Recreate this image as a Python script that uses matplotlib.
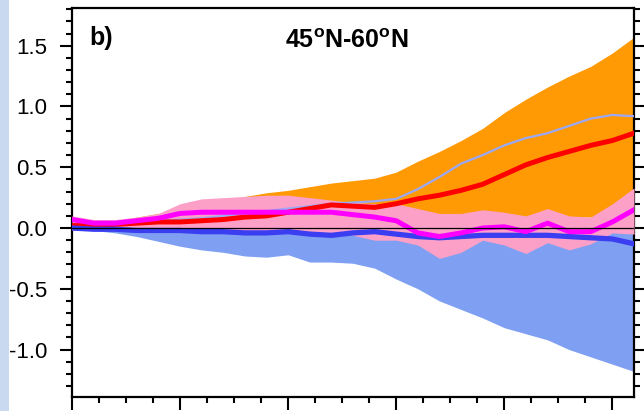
import numpy as np
import matplotlib
matplotlib.use("Agg")
import matplotlib.pyplot as plt
from matplotlib.patches import Rectangle
from matplotlib.ticker import MultipleLocator

plt.rcParams['font.family'] = ['Liberation Sans', 'DejaVu Sans']
plt.rcParams['mathtext.fontset'] = 'custom'
plt.rcParams['mathtext.bf'] = 'Liberation Sans:bold'
plt.rcParams['mathtext.rm'] = 'Liberation Sans'

# years since start of run, sampled every 4 years
years = [0, 4, 8, 12, 16, 20, 24, 28, 32, 36, 40, 44, 48, 52,
         56, 60, 64, 68, 72, 76, 80, 84, 88, 92, 96, 100, 104]

# orange envelope
orange_hi = [0.06, 0.06, 0.06, 0.09, 0.12, 0.16, 0.20, 0.23, 0.26, 0.29, 0.31, 0.34, 0.37, 0.39,
             0.41, 0.46, 0.55, 0.63, 0.72, 0.82, 0.95, 1.06, 1.16, 1.25, 1.33, 1.44, 1.57]
orange_lo = [0.00, 0.00, 0.01, 0.01, 0.02, 0.02, 0.03, 0.03, 0.04, 0.04, 0.05, 0.05, 0.06, 0.07,
             0.08, 0.09, 0.10, 0.10, 0.10, 0.10, 0.09, 0.09, 0.09, 0.09, 0.09, 0.10, 0.12]

# pink envelope
pink_hi = [0.10, 0.07, 0.07, 0.09, 0.12, 0.20, 0.24, 0.25, 0.26, 0.27, 0.27, 0.25, 0.23, 0.21,
           0.20, 0.20, 0.16, 0.12, 0.12, 0.15, 0.13, 0.10, 0.16, 0.10, 0.09, 0.20, 0.33]
pink_lo = [-0.02, -0.02, -0.02, -0.02, -0.02, -0.02, -0.02, -0.03, -0.03, -0.03, -0.04, -0.04, -0.04, -0.06,
           -0.10, -0.10, -0.14, -0.25, -0.20, -0.10, -0.14, -0.21, -0.12, -0.18, -0.13, -0.04, -0.05]

# blue envelope
blue_hi = [0.00, 0.00, 0.00, 0.00, 0.00, 0.00, 0.00, 0.00, 0.00, 0.00, 0.00, 0.00, 0.00, 0.00,
           0.00, 0.00, 0.00, 0.00, 0.00, 0.00, 0.00, 0.00, 0.00, 0.00, 0.00, 0.00, 0.00]
blue_lo = [0.00, -0.02, -0.04, -0.07, -0.11, -0.15, -0.18, -0.20, -0.23, -0.24, -0.22, -0.28, -0.28, -0.29,
           -0.33, -0.42, -0.50, -0.60, -0.67, -0.74, -0.82, -0.87, -0.92, -1.00, -1.06, -1.12, -1.18]

# mean curves
red_mean = [0.02, 0.02, 0.03, 0.04, 0.05, 0.05, 0.06, 0.07, 0.09, 0.10, 0.13, 0.16, 0.19, 0.18,
            0.17, 0.20, 0.24, 0.27, 0.31, 0.36, 0.44, 0.52, 0.58, 0.63, 0.68, 0.72, 0.78]
lightblue_mean = [0.02, 0.03, 0.04, 0.05, 0.06, 0.07, 0.08, 0.10, 0.12, 0.14, 0.16, 0.18, 0.20, 0.21,
                  0.22, 0.24, 0.32, 0.42, 0.53, 0.60, 0.68, 0.74, 0.78, 0.84, 0.90, 0.93, 0.92]
magenta_mean = [0.07, 0.04, 0.04, 0.06, 0.08, 0.12, 0.13, 0.13, 0.13, 0.13, 0.13, 0.13, 0.13, 0.11,
                0.09, 0.06, -0.04, -0.07, -0.04, 0.00, 0.01, -0.03, 0.04, -0.03, -0.03, 0.05, 0.15]
blue_mean = [0.00, -0.01, -0.01, -0.02, -0.02, -0.02, -0.03, -0.03, -0.04, -0.04, -0.03, -0.05, -0.06, -0.04,
             -0.03, -0.05, -0.07, -0.08, -0.07, -0.06, -0.06, -0.06, -0.06, -0.07, -0.08, -0.09, -0.13]

fig = plt.figure(figsize=(6.44, 4.11), dpi=100)
# light blue strip on the left edge
fig.patches.append(Rectangle((0, 0), 9 / 644, 1, transform=fig.transFigure,
                             facecolor='#c9d9ef', edgecolor='none', zorder=0))

ax = fig.add_axes([72 / 644, 14 / 411, 562 / 644, 389 / 411])

ax.fill_between(years, blue_lo, blue_hi, color='#7f9ff2', lw=0, zorder=1)
ax.fill_between(years, orange_lo, orange_hi, color='#ff9a05', lw=0, zorder=2)
ax.fill_between(years, pink_lo, pink_hi, color='#fca0c8', lw=0, zorder=3)

ax.plot(years, lightblue_mean, color='#9aa8f5', lw=1.6, zorder=4)
ax.plot(years, red_mean, color='#ff0000', lw=3.6, zorder=5)
ax.plot(years, blue_mean, color='#3a3ef0', lw=3.8, zorder=6)
ax.plot(years, magenta_mean, color='#ff00ff', lw=3.6, zorder=7)
ax.axhline(0, color='black', lw=0.9, zorder=8)

ax.set_xlim(0, 104)
ax.set_ylim(-1.39, 1.81)

ax.xaxis.set_major_locator(MultipleLocator(20))
ax.xaxis.set_minor_locator(MultipleLocator(5))
ax.yaxis.set_major_locator(MultipleLocator(0.5))
ax.yaxis.set_minor_locator(MultipleLocator(0.1))
ax.set_yticks([-1.0, -0.5, 0.0, 0.5, 1.0, 1.5])
ax.set_yticklabels(['-1.0', '-0.5', '0.0', '0.5', '1.0', '1.5'])
ax.set_xticklabels([])

ax.tick_params(which='both', direction='out', width=1.5, top=False, right=True,
               labelsize=16, pad=9)
ax.tick_params(which='major', length=9)
ax.tick_params(which='minor', length=4.5)
for s in ax.spines.values():
    s.set_linewidth(1.6)

ax.text(0.03, 0.905, 'b)', transform=ax.transAxes, fontsize=18,
        fontweight='bold', va='baseline', ha='left')
ax.text(0.489, 0.897, r'45$^{\mathbf{o}}$N-60$^{\mathbf{o}}$N', transform=ax.transAxes,
        fontsize=18, fontweight='bold', va='baseline', ha='center')

fig.savefig('out.png', dpi=100)
